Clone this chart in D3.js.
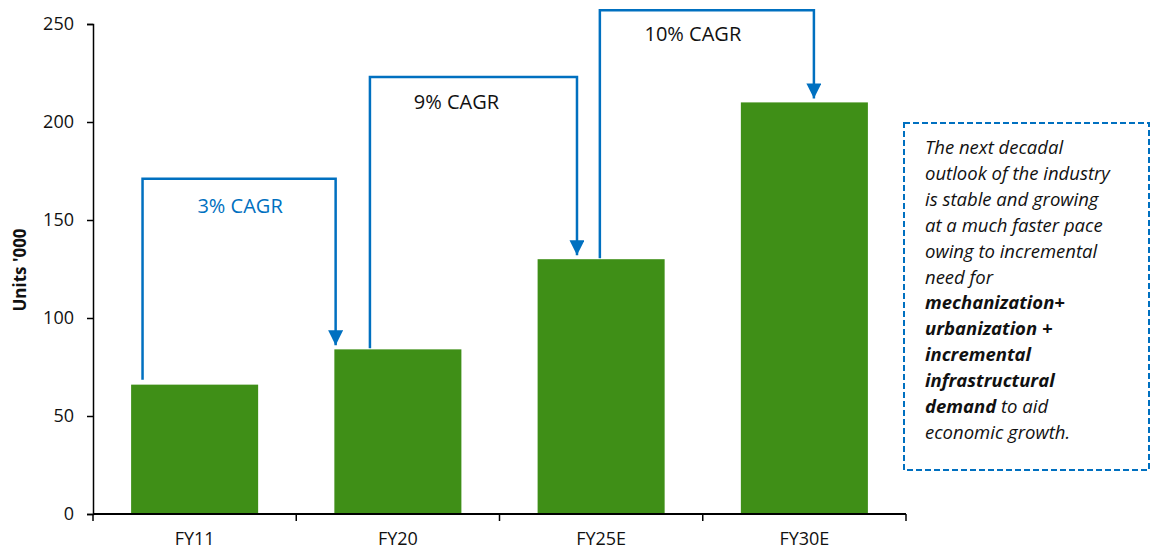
<!DOCTYPE html>
<html>
<head>
<meta charset="utf-8">
<script src="https://cdn.jsdelivr.net/npm/d3@7"></script>
<style>
  html, body { margin: 0; padding: 0; background: #fff; }
  svg { display: block; font-family: "Open Sans", sans-serif; }
</style>
</head>
<body>
<svg id="chart" width="1154" height="550"></svg>
<script>
// ---- Data ----
const categories = ["FY11", "FY20", "FY25E", "FY30E"];
const values = [66, 84, 130, 210];
const yTicks = [0, 50, 100, 150, 200, 250];
const cagrLabels = ["3% CAGR", "9% CAGR", "10% CAGR"];
const cagrFrom = ["FY11", "FY20", "FY25E"];
const cagrTo = ["FY20", "FY25E", "FY30E"];
const cagrTopValue = [171, 223, 257];
const noteLines = [
  [["The next decadal", false]],
  [["outlook of the industry", false]],
  [["is stable and growing", false]],
  [["at a much faster pace", false]],
  [["owing to incremental", false]],
  [["need for", false]],
  [["mechanization+", true]],
  [["urbanization +", true]],
  [["incremental", true]],
  [["infrastructural", true]],
  [["demand", true], [" to aid", false]],
  [["economic growth.", false]]
];

// ---- Layout ----
const svg = d3.select("#chart");
const x = d3.scaleBand().domain(categories).range([93, 906]).paddingInner(0.375).paddingOuter(0.1875);
const y = d3.scaleLinear().domain([0, 250]).range([514, 24]);
const green = "#3F8F17";
const blue = "#0070C0";

// Bars
svg.append("g").selectAll("rect").data(categories).join("rect")
  .attr("x", d => x(d))
  .attr("width", x.bandwidth())
  .attr("y", (d, i) => y(values[i]))
  .attr("height", (d, i) => y(0) - y(values[i]))
  .attr("fill", green);

// Y axis
const yAxis = svg.append("g").attr("transform", "translate(93,0)")
  .call(d3.axisLeft(y).tickValues(yTicks).tickSize(6).tickPadding(13));
yAxis.select(".domain").attr("stroke", "#000").attr("stroke-width", 1.5);
yAxis.selectAll(".tick line").attr("stroke", "#000").attr("stroke-width", 1.5);
yAxis.selectAll("text").attr("font-size", 18).attr("fill", "#111").attr("font-family", "'Open Sans', sans-serif");

// X axis (ticks at band boundaries)
const xAxisG = svg.append("g").attr("transform", `translate(0,${y(0)})`);
xAxisG.append("line").attr("x1", 93).attr("x2", 906).attr("stroke", "#000").attr("stroke-width", 2);
const step = x.step();
const boundaries = categories.map(c => x(c) - x.paddingOuter() * step).concat([906]);
xAxisG.selectAll("line.tk").data(boundaries).join("line").attr("class", "tk")
  .attr("x1", d => d).attr("x2", d => d).attr("y1", 0).attr("y2", 7)
  .attr("stroke", "#000").attr("stroke-width", 1.5);
xAxisG.selectAll("text").data(categories).join("text")
  .attr("x", d => x(d) + x.bandwidth() / 2)
  .attr("y", 31)
  .attr("text-anchor", "middle")
  .attr("font-size", 18)
  .attr("fill", "#111")
  .text(d => d);

// Y axis title
svg.append("text")
  .attr("transform", "translate(26,270) rotate(-90)")
  .attr("text-anchor", "middle")
  .attr("font-size", 17)
  .attr("font-weight", "bold")
  .attr("fill", "#111")
  .text("Units '000");

// Arrowhead
svg.append("defs").append("marker")
  .attr("id", "arrow")
  .attr("viewBox", "0 0 10 10")
  .attr("refX", 10).attr("refY", 5)
  .attr("markerWidth", 6).attr("markerHeight", 6)
  .attr("markerUnits", "strokeWidth")
  .attr("orient", "auto")
  .append("path").attr("d", "M0,0 L10,5 L0,10 Z").attr("fill", blue);

// CAGR connectors (offsets as fraction of bandwidth within bars)
const startFrac = [0.09, 0.28, 0.49];
const endFrac = [0.01, 0.31, 0.575];
const labelColor = [blue, "#111", "#111"];
const labelShift = [1, -17, -14];
const labelDrop = [34, 32, 31];
cagrLabels.forEach((lab, i) => {
  const x0 = x(cagrFrom[i]) + startFrac[i] * x.bandwidth();
  const x1 = x(cagrTo[i]) + endFrac[i] * x.bandwidth();
  const yStart = y(values[categories.indexOf(cagrFrom[i])]) - (i === 0 ? 5 : 1);
  const yTop = y(cagrTopValue[i]);
  const yEnd = y(values[categories.indexOf(cagrTo[i])]) - 4;
  svg.append("path")
    .attr("d", `M${x0},${yStart} L${x0},${yTop} L${x1},${yTop} L${x1},${yEnd}`)
    .attr("fill", "none")
    .attr("stroke", blue)
    .attr("stroke-width", 2.5)
    .attr("marker-end", "url(#arrow)");
  svg.append("text")
    .attr("x", (x0 + x1) / 2 + labelShift[i])
    .attr("y", yTop + labelDrop[i])
    .attr("text-anchor", "middle")
    .attr("font-size", 20)
    .attr("fill", labelColor[i])
    .text(lab);
});

// Note box
svg.append("rect")
  .attr("x", 904).attr("y", 123).attr("width", 245).attr("height", 347)
  .attr("fill", "none").attr("stroke", blue).attr("stroke-width", 2)
  .attr("stroke-dasharray", "6,3");
const note = svg.append("text")
  .attr("font-size", 18.5)
  .attr("font-style", "italic")
  .attr("fill", "#111");
noteLines.forEach((parts, i) => {
  parts.forEach((p, j) => {
    const t = note.append("tspan").text(p[0]).attr("font-weight", p[1] ? "bold" : "normal");
    if (j === 0) t.attr("x", 925).attr("y", 154 + i * 25.9);
  });
});
</script>
</body>
</html>
